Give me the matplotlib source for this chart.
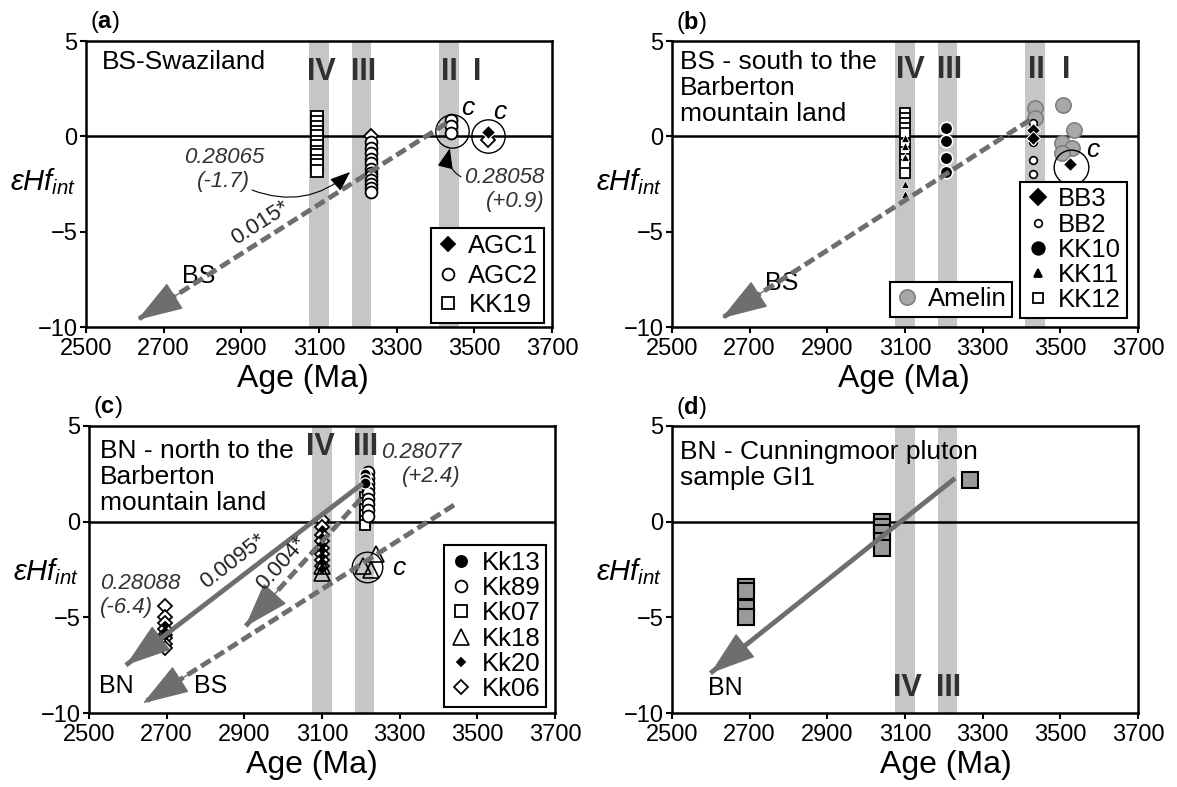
import numpy as np
import matplotlib
matplotlib.use('Agg')
import matplotlib.pyplot as plt
from matplotlib.lines import Line2D

plt.rcParams['font.family'] = ['Liberation Sans', 'DejaVu Sans']
plt.rcParams['mathtext.fontset'] = 'custom'
plt.rcParams['mathtext.rm'] = 'Liberation Sans'
plt.rcParams['mathtext.it'] = 'Liberation Sans:italic'
plt.rcParams['mathtext.bf'] = 'Liberation Sans:bold'

# ---------------- data ----------------
# (a) BS-Swaziland
kk19_age = 3095
kk19_eps = [1.0, 0.75, 0.5, 0.25, 0.0, -0.3, -0.5, -0.8, -1.0, -1.3, -1.5, -1.8]
agc2_age = [3235] * 12 + [3440] * 3
agc2_eps = [-0.3, -0.6, -0.9, -1.2, -1.4, -1.7, -1.9, -2.1, -2.3, -2.5, -2.7, -2.9,
            0.85, 0.55, 0.2]
agc1_age = [3535]
agc1_eps = [0.25]
agc_open_age = [3235, 3535]
agc_open_eps = [0.0, -0.2]
a_circ_age = [3443, 3536]
a_circ_eps = [0.3, 0.0]

# (b) BS - south
kk12_age = 3100
kk12_eps = [1.2, 0.95, 0.7, 0.45, 0.2, -0.4, -0.8, -1.2, -1.5, -1.9]
kk11_age = 3100
kk11_eps = [-0.1, -0.5, -1.1, -2.5, -3.0]
kk10_age = 3205
kk10_eps = [0.45, -0.25, -1.15, -1.85]
bb2_age = 3430
bb2_eps = [0.7, 0.15, -0.3, -1.25, -1.95]
bb3_age = [3430, 3430, 3525]
bb3_eps = [0.35, -0.1, -1.45]
amelin_age = [3435, 3435, 3508, 3534, 3505, 3529, 3505]
amelin_eps = [1.5, 0.95, 1.64, 0.33, -0.37, -0.63, -0.9]
b_circ_age = [3527]
b_circ_eps = [-1.6]

# (c) BN - north
kk13_age = 3212
kk13_eps = [2.5, 2.25, 2.0]
kk89_age = 3218
kk89_eps = [2.6, 2.3, 2.0, 1.75, 1.5, 1.2, 0.9, 0.6, 0.3]
kk07_age = 3210
kk07_eps = [1.3, 1.0, 0.65, 0.35, 0.05, -0.2]
kk18_age = [3100, 3100, 3206, 3225, 3240]
kk18_eps = [-2.3, -2.7, -2.3, -2.55, -1.7]
kk20_age = [3100] * 7 + [2695] * 3
kk20_eps = [-0.4, -0.8, -1.2, -1.5, -1.8, -2.1, -2.4, -5.4, -5.7, -6.0]
kk06_age = [3100] * 8 + [2695] * 8
kk06_eps = [0.1, -0.3, -0.7, -1.0, -1.4, -1.7, -2.0, -2.3,
            -4.4, -5.0, -5.3, -5.6, -5.9, -6.1, -6.4, -6.6]
c_circ_age = [3216]
c_circ_eps = [-2.35]

# (d) Cunningmoor pluton GI1
gi1_age = [2690, 2690, 2690, 2690, 3042, 3042, 3042, 3042, 3042, 3268]
gi1_eps = [-3.4, -3.6, -4.5, -5.0, 0.0, -0.3, -0.6, -1.0, -1.4, 2.2]

# reference bands (Ma) and trend arrows (start -> tip)
bands = {'IV': (3075, 3125), 'III': (3185, 3235), 'II': (3410, 3460)}
bs_arrow_a = [(3428, 0.68), (2632, -9.63)]
bs_arrow_b = [(3422, 0.86), (2628, -9.54)]
bn_arrow_c = [(3205, 2.0), (2595, -7.5)]
mid_arrow_c = [(3200, 1.2), (2902, -5.49)]
bs_arrow_c = [(3440, 0.87), (2639, -9.49)]
bn_arrow_d = [(3229, 2.27), (2599, -7.92)]

GRAY = '#6e6e6e'
BAND = '#c6c6c6'
TXT = 19

fig = plt.figure(figsize=(11.77, 7.87), dpi=100)
W, H = 1177, 787


def make_axes(left, right, top, bottom):
    return fig.add_axes([left / W, 1 - bottom / H, (right - left) / W, (bottom - top) / H])


ax_a = make_axes(86, 552, 41, 327)
ax_b = make_axes(672, 1138, 41, 327)
ax_c = make_axes(89, 555, 426, 713)
ax_d = make_axes(672, 1138, 426, 713)


def setup(ax, letter, xlab_x, ylab_y):
    ax.set_xlim(2500, 3700)
    ax.set_ylim(-10, 5)
    ax.set_xticks(np.arange(2500, 3701, 200))
    ax.set_yticks([-10, -5, 0, 5])
    ax.tick_params(direction='out', length=4, width=1.5, labelsize=17, pad=2)
    ax.tick_params(axis='x', pad=4)
    for s in ax.spines.values():
        s.set_linewidth(1.8)
    ax.axhline(0, color='black', lw=1.8, zorder=1)
    ax.set_xlabel('Age (Ma)', fontsize=23)
    ax.xaxis.set_label_coords(xlab_x, -0.13)
    ax.text(-0.022, ylab_y, r'$\varepsilon Hf_{int}$', transform=ax.get_yaxis_transform(),
            ha='right', va='center', fontsize=21)
    ax.text(0.008, 1.066, '($\\mathbf{%s}$)' % letter, transform=ax.transAxes,
            ha='left', va='center', fontsize=17)


def draw_bands(ax, names):
    for n in names:
        ax.axvspan(bands[n][0], bands[n][1], color=BAND, lw=0, zorder=0)


def roman(ax, items, y):
    for name, x in items:
        ax.text(x, y, name, ha='center', va='center', fontsize=22, fontweight='bold',
                color='#303030', zorder=2)


def trend(ax, pts, dashed, label=None, lab_xy=None):
    p0 = ax.transData.transform(pts[0])
    p1 = ax.transData.transform(pts[1])
    d = (p0 - p1) / np.hypot(*(p0 - p1))
    # shaft
    ls = (0, (2.3, 1.0)) if dashed else '-'
    ax.plot([pts[0][0], pts[1][0]], [pts[0][1], pts[1][1]], color=GRAY, lw=3.5,
            ls=ls, solid_capstyle='butt', dash_capstyle='butt', zorder=6)
    # solid head
    back = ax.transData.inverted().transform(p1 + d * 55)
    ax.annotate('', xy=pts[1], xytext=back,
                arrowprops=dict(arrowstyle='-|>,head_length=1.5,head_width=0.5',
                                mutation_scale=20, color=GRAY, lw=1.0,
                                shrinkA=0, shrinkB=0),
                zorder=6)
    if label:
        ang = np.degrees(np.arctan2(d[1], d[0]))
        ax.text(lab_xy[0], lab_xy[1], label, rotation=ang, rotation_mode='anchor',
                ha='center', va='center', fontsize=16, color='#222222', zorder=7)


def pts(ax, x, y, marker, ms, mfc, mec='black', mew=1.3, z=4):
    if np.isscalar(x):
        x = [x] * len(y)
    ax.plot(x, y, ls='none', marker=marker, ms=ms, mfc=mfc, mec=mec, mew=mew, zorder=z)


def circ(ax, x, y, ms):
    ax.plot(x, y, ls='none', marker='o', ms=ms, mfc='none', mec='black', mew=1.0, zorder=5)


def legend(ax, handles, labels, anchor, spacing=0.05):
    lg = ax.legend(handles, labels, loc='lower right', bbox_to_anchor=anchor,
                   fontsize=18.5, frameon=True, fancybox=False, edgecolor='black',
                   borderpad=0.22, labelspacing=spacing, handlelength=0.9,
                   handletextpad=0.35, borderaxespad=0, framealpha=1)
    lg.get_frame().set_linewidth(1.5)
    lg.set_zorder(10)
    return lg


def h(marker, ms, mfc, mec='black', mew=1.3):
    return Line2D([], [], ls='none', marker=marker, ms=ms, mfc=mfc, mec=mec, mew=mew)


# ---------------- (a) ----------------
ax = ax_a
setup(ax, 'a', 0.466, -2.4)
draw_bands(ax, ['IV', 'III', 'II'])
roman(ax, [('IV', 3107), ('III', 3216), ('II', 3437), ('I', 3507)], 3.4)
ax.text(0.033, 0.928, 'BS-Swaziland', transform=ax.transAxes, ha='left', va='center', fontsize=TXT)
pts(ax, kk19_age, kk19_eps, 's', 8, 'white')
pts(ax, agc_open_age, agc_open_eps, 'D', 7, 'white', z=3)
pts(ax, agc2_age, agc2_eps, 'o', 8.5, 'white')
pts(ax, agc1_age, agc1_eps, 'D', 7, 'black', mec='white', mew=0.8)
circ(ax, a_circ_age, a_circ_eps, 24)
ax.text(3484, 1.5, 'c', fontsize=19, style='italic', ha='center', va='center')
ax.text(3566, 1.3, 'c', fontsize=19, style='italic', ha='center', va='center')
trend(ax, bs_arrow_a, True, '0.015*', (2950, -4.55))
ax.text(2790, -7.35, 'BS', fontsize=18, ha='center', va='center')
ax.annotate('0.28065\n(-1.7)', xy=(3180, -1.87), xytext=(2855, -1.75), ha='center', va='center',
            fontsize=16, style='italic', color='#333333', multialignment='center',
            arrowprops=dict(arrowstyle='-|>,head_length=0.9,head_width=0.35', mutation_scale=14,
                            color='black', lw=0.8, connectionstyle='arc3,rad=0.3',
                            shrinkA=0, shrinkB=0, patchA=None,
                            relpos=(0.85, 0.05)), zorder=7)
ax.annotate('0.28058\n(+0.9)', xy=(3437, -0.63), xytext=(3680, -2.8), ha='right', va='center',
            fontsize=16, style='italic', color='#333333', multialignment='right',
            arrowprops=dict(arrowstyle='-|>,head_length=0.9,head_width=0.35', mutation_scale=14,
                            color='black', lw=0.8, connectionstyle='arc3,rad=-0.4',
                            shrinkA=0, shrinkB=0, relpos=(0.0, 0.75)), zorder=7)
legend(ax, [h('D', 7, 'black'), h('o', 8.5, 'white'), h('s', 8, 'white')],
       ['AGC1', 'AGC2', 'KK19'], (0.983, 0.014), spacing=0.22)

# ---------------- (b) ----------------
ax = ax_b
setup(ax, 'b', 0.498, -2.4)
draw_bands(ax, ['IV', 'III', 'II'])
roman(ax, [('IV', 3113), ('III', 3214), ('II', 3439), ('I', 3514)], 3.48)
ax.text(0.017, 0.835, 'BS - south to the\nBarberton\nmountain land', transform=ax.transAxes,
        ha='left', va='center', fontsize=TXT, linespacing=1.1)
pts(ax, amelin_age, amelin_eps, 'o', 11, '#a8a8a8', mec='#808080', mew=1.2, z=3)
pts(ax, kk12_age, kk12_eps, 's', 7.5, 'white')
pts(ax, kk11_age, kk11_eps, '^', 6, 'black', mec='white', mew=0.6)
pts(ax, kk10_age, kk10_eps, 'o', 9, 'black', mec='white', mew=1.2)
pts(ax, bb2_age, bb2_eps, 'o', 5.5, 'white', mew=1.2)
pts(ax, bb3_age, bb3_eps, 'D', 7.5, 'black', mec='white', mew=0.8)
circ(ax, b_circ_age, b_circ_eps, 25)
ax.text(3583, -0.72, 'c', fontsize=19, style='italic', ha='center', va='center')
trend(ax, bs_arrow_b, True)
ax.text(2783, -7.7, 'BS', fontsize=18, ha='center', va='center')
lg = legend(ax, [h('D', 8, 'black'), h('o', 5.5, 'white', mew=1.2), h('o', 9, 'black'),
                 h('^', 6, 'black'), h('s', 7.5, 'white')],
            ['BB3', 'BB2', 'KK10', 'KK11', 'KK12'], (0.976, 0.031))
ax.add_artist(lg)
legend(ax, [h('o', 11, '#a8a8a8', mec='#808080', mew=1.2)], ['Amelin'], (0.73, 0.035))

# ---------------- (c) ----------------
ax = ax_c
setup(ax, 'c', 0.479, -2.6)
draw_bands(ax, ['IV', 'III'])
roman(ax, [('IV', 3095), ('III', 3211)], 3.92)
ax.text(0.023, 0.823, 'BN - north to the\nBarberton\nmountain land', transform=ax.transAxes,
        ha='left', va='center', fontsize=TXT, linespacing=1.1)
pts(ax, kk06_age, kk06_eps, 'D', 7, 'white')
pts(ax, kk20_age, kk20_eps, 'D', 4.5, 'black', mec='black', mew=0.5)
pts(ax, kk07_age, kk07_eps, 's', 7.5, 'white')
pts(ax, kk89_age, kk89_eps, 'o', 8.5, 'white')
pts(ax, kk13_age, kk13_eps, 'o', 8, 'black', mec='white', mew=1.0)
pts(ax, kk18_age, kk18_eps, '^', 11, 'none', mew=1.2)
circ(ax, c_circ_age, c_circ_eps, 22)
ax.text(3298, -2.4, 'c', fontsize=19, style='italic', ha='center', va='center')
trend(ax, bn_arrow_c, False, '0.0095*', (2870, -2.1))
trend(ax, mid_arrow_c, True, '0.004*', (2995, -2.2))
trend(ax, bs_arrow_c, True)
ax.text(2571, -8.6, 'BN', fontsize=18, ha='center', va='center')
ax.text(2814, -8.6, 'BS', fontsize=18, ha='center', va='center')
ax.text(3458, 2.97, '0.28077\n(+2.4)', ha='right', va='center', fontsize=16, style='italic',
        color='#333333', multialignment='right')
ax.text(2528, -3.85, '0.28088\n(-6.4)', ha='left', va='center', fontsize=16, style='italic',
        color='#333333', multialignment='left')
legend(ax, [h('o', 8, 'black'), h('o', 8.5, 'white'), h('s', 8, 'white'),
            h('^', 11, 'none', mew=1.2), h('D', 4.5, 'black'), h('D', 7, 'white')],
       ['Kk13', 'Kk89', 'Kk07', 'Kk18', 'Kk20', 'Kk06'], (0.981, 0.021))

# ---------------- (d) ----------------
ax = ax_d
setup(ax, 'd', 0.587, -2.6)
draw_bands(ax, ['IV', 'III'])
roman(ax, [('IV', 3105), ('III', 3211)], -8.7)
ax.text(0.018, 0.865, 'BN - Cunningmoor pluton\nsample GI1', transform=ax.transAxes,
        ha='left', va='center', fontsize=TXT, linespacing=1.1)
pts(ax, gi1_age, gi1_eps, 's', 11, '#9a9a9a', mec='black', mew=1.5)
trend(ax, bn_arrow_d, False)
ax.text(2638, -8.7, 'BN', fontsize=18, ha='center', va='center')

fig.savefig('out.png', dpi=100)
